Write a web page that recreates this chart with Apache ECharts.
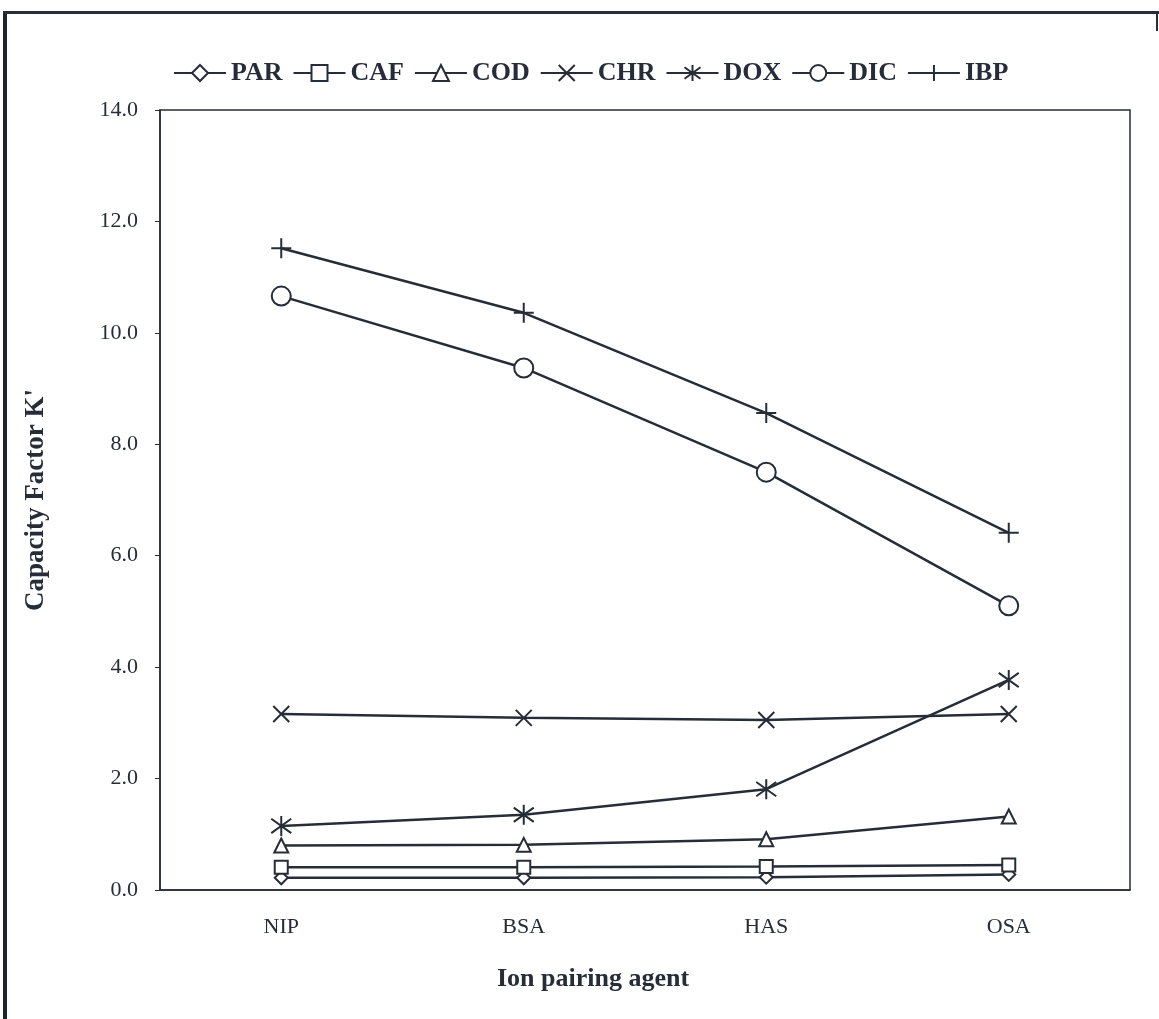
<!DOCTYPE html>
<html>
<head>
<meta charset="utf-8">
<script src="https://cdn.jsdelivr.net/npm/echarts@6/dist/echarts.min.js"></script>
<style>
html,body{margin:0;padding:0;background:#fff;}
#chart{width:1159px;height:1019px;}
</style>
</head>
<body>
<div id="chart"></div>
<script>
var categories = ['NIP', 'BSA', 'HAS', 'OSA'];
var yTicks = [0, 2, 4, 6, 8, 10, 12, 14];
var PAR = [0.22, 0.22, 0.23, 0.28];
var CAF = [0.41, 0.41, 0.42, 0.45];
var COD = [0.80, 0.81, 0.91, 1.32];
var CHR = [3.16, 3.09, 3.05, 3.16];
var DOX = [1.15, 1.35, 1.81, 3.77];
var DIC = [10.66, 9.37, 7.50, 5.10];
var IBP = [11.52, 10.36, 8.56, 6.41];

var ink = '#262d38';
var serif = '"Liberation Serif", "DejaVu Serif", serif';

function mk(name, data, symbol, size) {
  return {
    name: name, type: 'line', data: data,
    symbol: symbol, symbolSize: size,
    lineStyle: {color: ink, width: 2.5},
    itemStyle: {color: '#fff', borderColor: ink, borderWidth: 2},
    emphasis: {disabled: true},
    z: 3
  };
}

var chart = echarts.init(document.getElementById('chart'));
chart.setOption({
  animation: false,
  backgroundColor: '#fff',
  legend: {
    top: 55, left: 168,
    itemWidth: 52, itemHeight: 20, itemGap: 10,
    textStyle: {fontFamily: serif, fontWeight: 'bold', fontSize: 26, color: ink},
    data: ['PAR', 'CAF', 'COD', 'CHR', 'DOX', 'DIC', 'IBP']
  },
  grid: {left: 160, top: 110, width: 970, height: 780, show: true, borderColor: ink, borderWidth: 1.5, backgroundColor: 'transparent'},
  xAxis: {
    type: 'category', data: categories, boundaryGap: true,
    axisLine: {lineStyle: {color: ink, width: 1.5}},
    axisTick: {show: false},
    axisLabel: {fontFamily: serif, fontSize: 22, color: ink, margin: 26},
    name: 'Ion pairing agent', nameLocation: 'middle', nameGap: 76,
    nameTextStyle: {fontFamily: serif, fontWeight: 'bold', fontSize: 26, color: ink, padding: [0, 104, 0, 0]}
  },
  yAxis: {
    type: 'value', min: yTicks[0], max: yTicks[yTicks.length - 1], interval: 2,
    axisLine: {show: true, lineStyle: {color: ink, width: 1.5}},
    axisTick: {show: true, length: 5, lineStyle: {color: ink}},
    splitLine: {show: false},
    axisLabel: {fontFamily: serif, fontSize: 22, color: ink, margin: 22, formatter: function (v) { return v.toFixed(1); }},
    name: "Capacity Factor K'", nameLocation: 'middle', nameGap: 110, nameRotate: 90,
    nameTextStyle: {fontFamily: serif, fontWeight: 'bold', fontSize: 27, color: ink}
  },
  graphic: [
    {type: 'rect', shape: {x: 3, y: 11, width: 4, height: 1010}, style: {fill: '#1e242c'}},
    {type: 'rect', shape: {x: 3, y: 11, width: 1156, height: 3}, style: {fill: '#262d38'}},
    {type: 'rect', shape: {x: 1156, y: 11, width: 2, height: 20}, style: {fill: '#262d38'}}
  ],
  series: [
    mk('PAR', PAR, 'diamond', 13),
    mk('CAF', CAF, 'rect', 13),
    mk('COD', COD, 'triangle', 14),
    mk('CHR', CHR, 'path://M0,0L10,10M10,0L0,10', 16),
    mk('DOX', DOX, 'path://M0,0L10,10M10,0L0,10M5,-2L5,12', 20),
    mk('DIC', DIC, 'circle', 19),
    mk('IBP', IBP, 'path://M5,0L5,10M0,5L10,5', 20)
  ]
});
</script>
</body>
</html>
